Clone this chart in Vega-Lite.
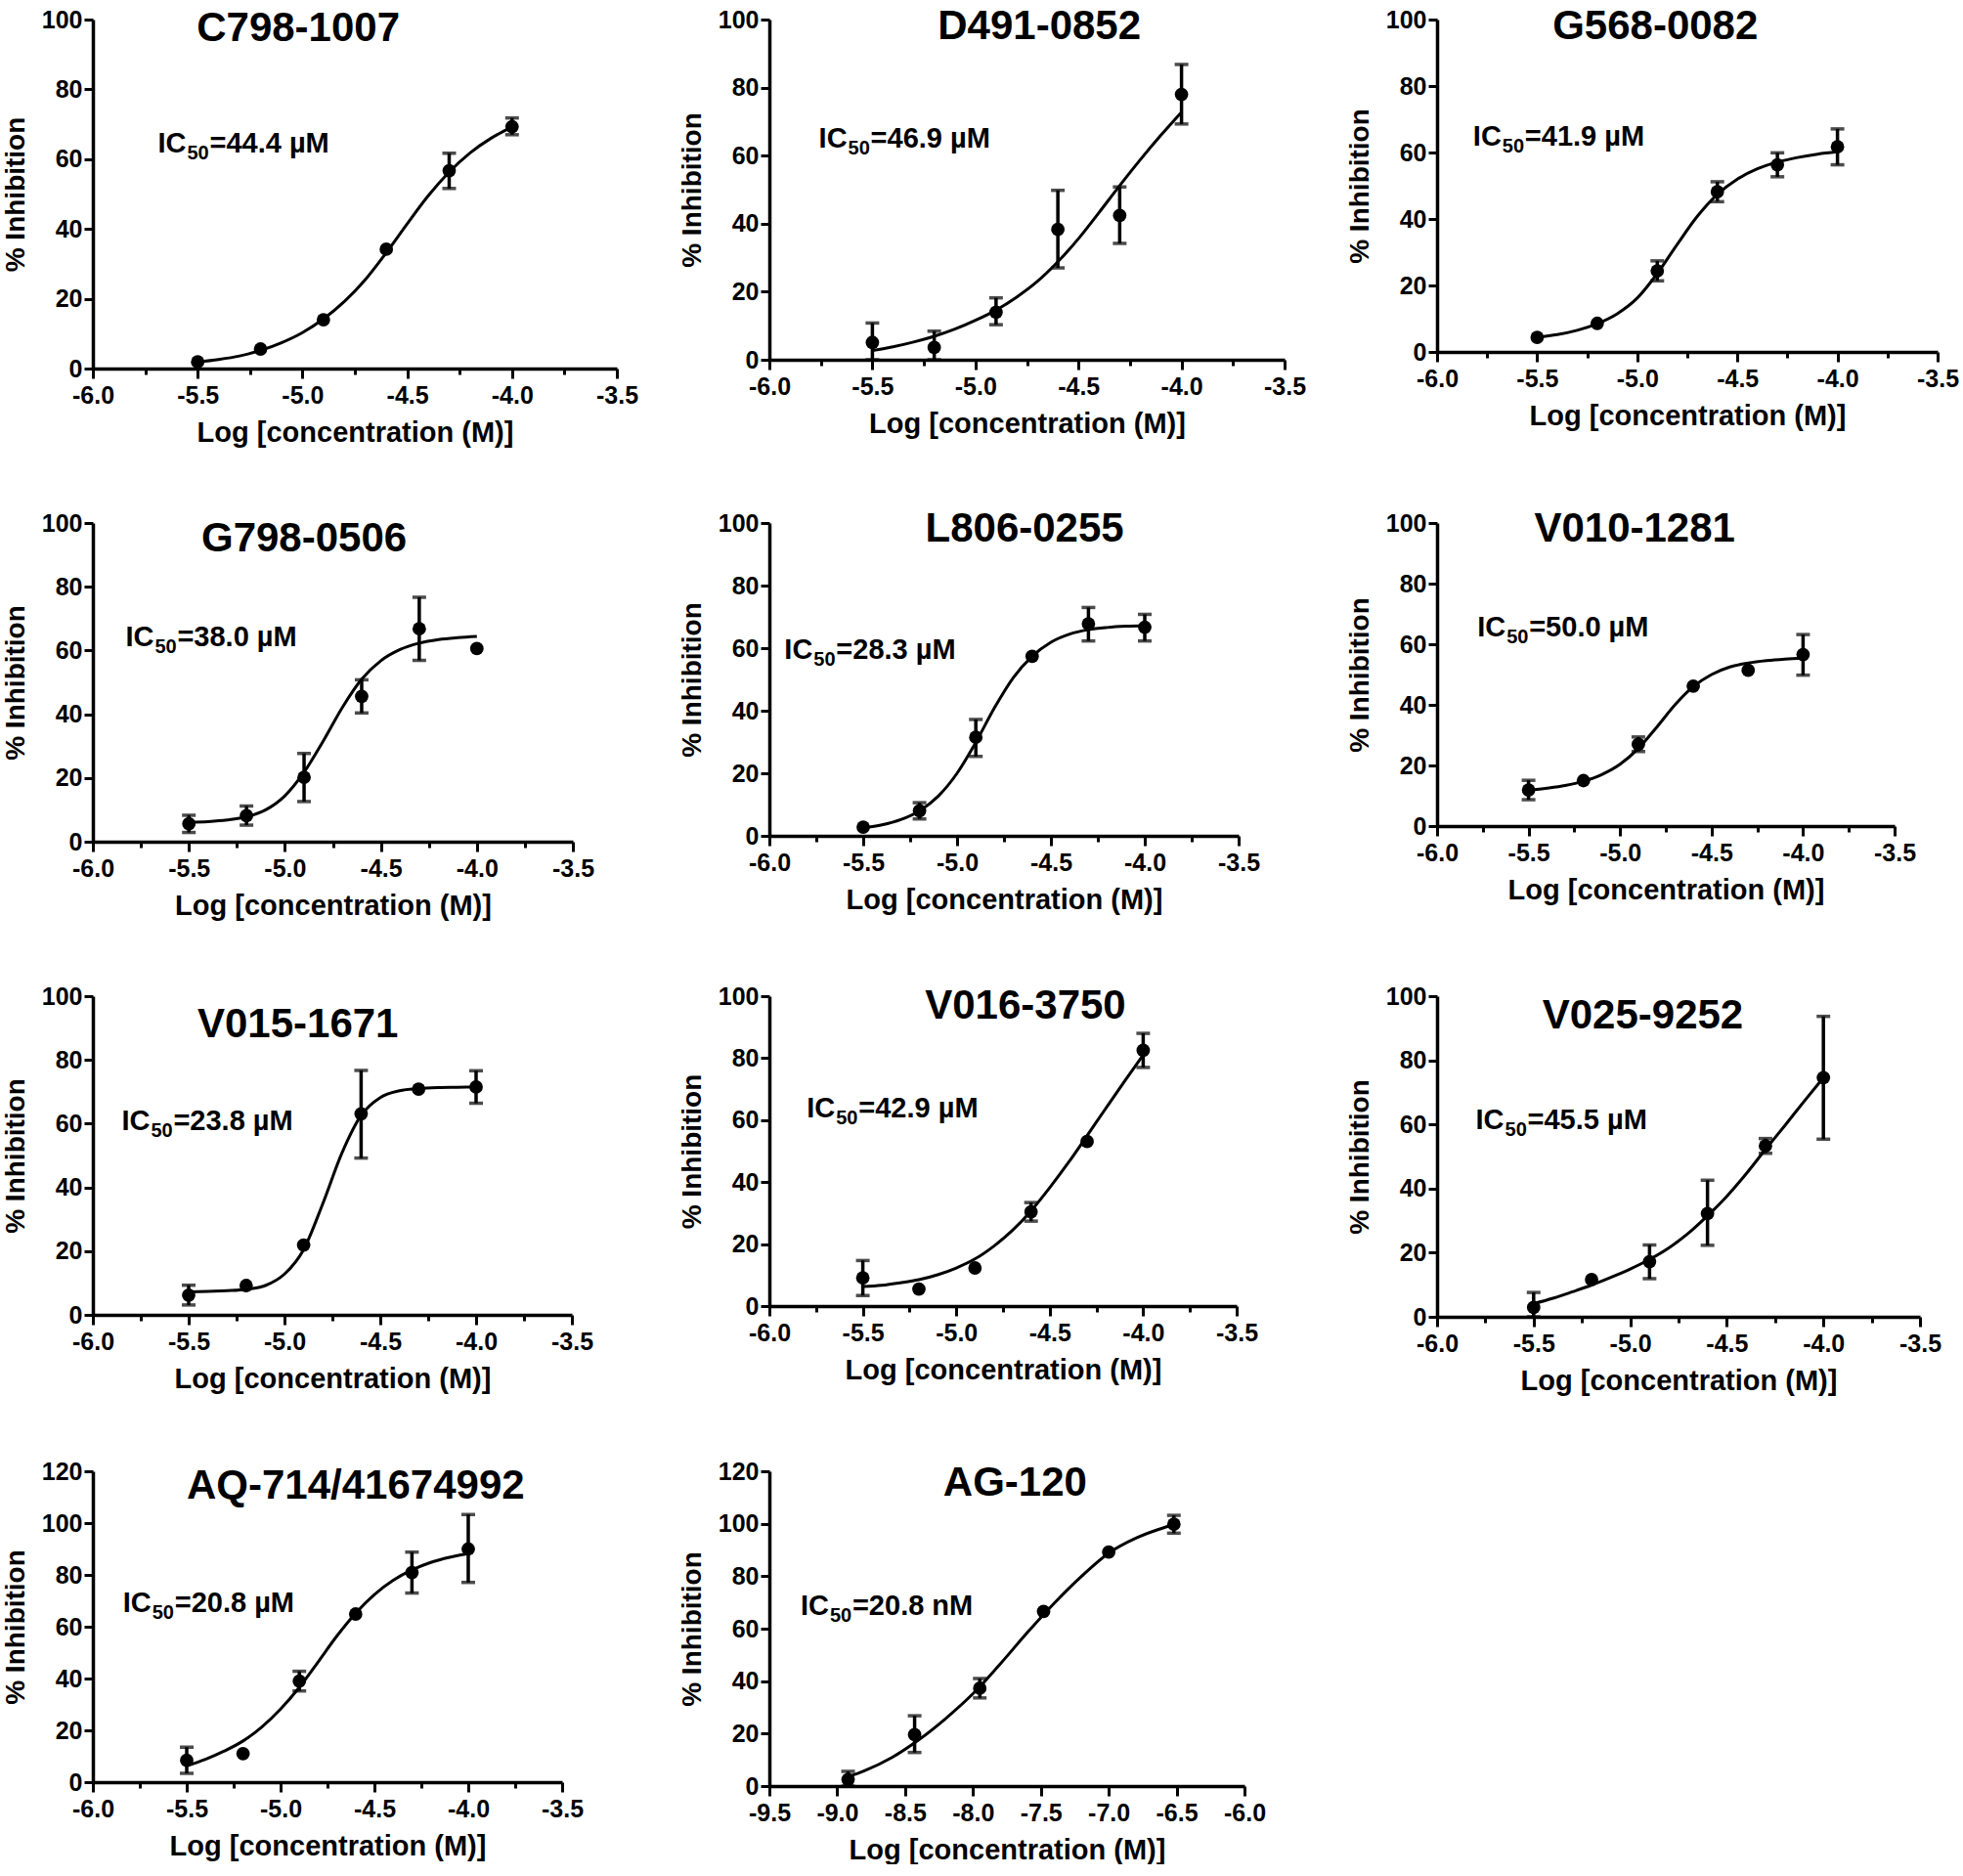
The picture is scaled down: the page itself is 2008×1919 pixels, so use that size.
{
"$schema": "https://vega.github.io/schema/vega-lite/v6.json",
"padding": {"left": 2, "top": 5, "right": 0, "bottom": 0},
"datasets": {
"pts": [
{"c":"C798-1007","x":-5.5,"y":1.9},{"c":"C798-1007","x":-5.2,"y":5.6},{"c":"C798-1007","x":-4.9,"y":14.0},{"c":"C798-1007","x":-4.6,"y":34.2},{"c":"C798-1007","x":-4.3,"y":56.7,"lo":51.6,"hi":61.7},{"c":"C798-1007","x":-4.0,"y":69.3,"lo":67.0,"hi":71.8},
{"c":"D491-0852","x":-5.5,"y":5.1,"lo":0,"hi":10.8},{"c":"D491-0852","x":-5.2,"y":3.6,"lo":0,"hi":8.4},{"c":"D491-0852","x":-4.9,"y":14.0,"lo":10.3,"hi":18.2},{"c":"D491-0852","x":-4.6,"y":38.3,"lo":27.0,"hi":49.8},{"c":"D491-0852","x":-4.3,"y":42.4,"lo":34.2,"hi":50.8},{"c":"D491-0852","x":-4.0,"y":78.0,"lo":69.3,"hi":86.8},
{"c":"G568-0082","x":-5.5,"y":4.4},{"c":"G568-0082","x":-5.2,"y":8.6},{"c":"G568-0082","x":-4.9,"y":24.4,"lo":21.4,"hi":27.4},{"c":"G568-0082","x":-4.6,"y":48.2,"lo":45.2,"hi":51.2},{"c":"G568-0082","x":-4.3,"y":56.3,"lo":52.7,"hi":59.9},{"c":"G568-0082","x":-4.0,"y":61.7,"lo":56.3,"hi":67.1},
{"c":"G798-0506","x":-5.5,"y":5.6,"lo":2.9,"hi":8.3},{"c":"G798-0506","x":-5.2,"y":8.2,"lo":5.2,"hi":11.2},{"c":"G798-0506","x":-4.9,"y":20.2,"lo":12.6,"hi":27.7},{"c":"G798-0506","x":-4.6,"y":45.6,"lo":40.4,"hi":50.8},{"c":"G798-0506","x":-4.3,"y":66.8,"lo":56.9,"hi":76.7},{"c":"G798-0506","x":-4.0,"y":60.6},
{"c":"L806-0255","x":-5.5,"y":2.8},{"c":"L806-0255","x":-5.2,"y":8.0,"lo":5.4,"hi":10.6},{"c":"L806-0255","x":-4.9,"y":31.5,"lo":25.4,"hi":37.2},{"c":"L806-0255","x":-4.6,"y":57.4},{"c":"L806-0255","x":-4.3,"y":67.8,"lo":62.3,"hi":73.0},{"c":"L806-0255","x":-4.0,"y":66.7,"lo":62.3,"hi":70.8},
{"c":"V010-1281","x":-5.5,"y":11.9,"lo":8.7,"hi":15.1},{"c":"V010-1281","x":-5.2,"y":15.0},{"c":"V010-1281","x":-4.9,"y":27.0,"lo":24.6,"hi":29.4},{"c":"V010-1281","x":-4.6,"y":46.2},{"c":"V010-1281","x":-4.3,"y":51.4},{"c":"V010-1281","x":-4.0,"y":56.6,"lo":49.8,"hi":63.2},
{"c":"V015-1671","x":-5.5,"y":6.2,"lo":3.1,"hi":9.3},{"c":"V015-1671","x":-5.2,"y":9.2},{"c":"V015-1671","x":-4.9,"y":21.9},{"c":"V015-1671","x":-4.6,"y":63.1,"lo":49.2,"hi":76.7},{"c":"V015-1671","x":-4.3,"y":70.8},{"c":"V015-1671","x":-4.0,"y":71.5,"lo":66.4,"hi":76.6},
{"c":"V016-3750","x":-5.5,"y":9.1,"lo":3.4,"hi":14.7},{"c":"V016-3750","x":-5.2,"y":5.5},{"c":"V016-3750","x":-4.9,"y":12.3},{"c":"V016-3750","x":-4.6,"y":30.4,"lo":27.4,"hi":33.4},{"c":"V016-3750","x":-4.3,"y":53.1},{"c":"V016-3750","x":-4.0,"y":82.5,"lo":77.0,"hi":88.0},
{"c":"V025-9252","x":-5.5,"y":2.9,"lo":0,"hi":7.6},{"c":"V025-9252","x":-5.2,"y":11.6},{"c":"V025-9252","x":-4.9,"y":17.2,"lo":11.9,"hi":22.4},{"c":"V025-9252","x":-4.6,"y":32.2,"lo":22.3,"hi":42.6},{"c":"V025-9252","x":-4.3,"y":53.3,"lo":51.0,"hi":55.6},{"c":"V025-9252","x":-4.0,"y":74.6,"lo":55.4,"hi":93.7},
{"c":"AQ-714/41674992","x":-5.5,"y":8.4,"lo":3.4,"hi":13.5},{"c":"AQ-714/41674992","x":-5.2,"y":11.0},{"c":"AQ-714/41674992","x":-4.9,"y":39.0,"lo":35.2,"hi":42.8},{"c":"AQ-714/41674992","x":-4.6,"y":64.9},{"c":"AQ-714/41674992","x":-4.3,"y":80.9,"lo":73.0,"hi":88.8},{"c":"AQ-714/41674992","x":-4.0,"y":90.0,"lo":77.1,"hi":103.3},
{"c":"AG-120","x":-8.92,"y":2.5,"lo":0,"hi":5.6},{"c":"AG-120","x":-8.43,"y":19.6,"lo":12.8,"hi":26.8},{"c":"AG-120","x":-7.95,"y":37.3,"lo":33.6,"hi":41.0},{"c":"AG-120","x":-7.48,"y":66.6},{"c":"AG-120","x":-7.0,"y":89.2},{"c":"AG-120","x":-6.52,"y":99.8,"lo":96.4,"hi":103.2}
],
"fit": [
{"c":"C798-1007","x":-5.5,"y":1.9},{"c":"C798-1007","x":-5.4,"y":2.6},{"c":"C798-1007","x":-5.3,"y":3.6},{"c":"C798-1007","x":-5.2,"y":5.2},{"c":"C798-1007","x":-5.1,"y":7.4},{"c":"C798-1007","x":-5.0,"y":10.3},{"c":"C798-1007","x":-4.9,"y":14.2},{"c":"C798-1007","x":-4.8,"y":19.2},{"c":"C798-1007","x":-4.7,"y":25.5},{"c":"C798-1007","x":-4.6,"y":33.2},{"c":"C798-1007","x":-4.5,"y":41.5},{"c":"C798-1007","x":-4.4,"y":49.5},{"c":"C798-1007","x":-4.3,"y":56.3},{"c":"C798-1007","x":-4.2,"y":61.8},{"c":"C798-1007","x":-4.1,"y":66.0},{"c":"C798-1007","x":-4.0,"y":69.2},
{"c":"D491-0852","x":-5.5,"y":2.7},{"c":"D491-0852","x":-5.4,"y":3.8},{"c":"D491-0852","x":-5.3,"y":5.2},{"c":"D491-0852","x":-5.2,"y":6.9},{"c":"D491-0852","x":-5.1,"y":9.0},{"c":"D491-0852","x":-5.0,"y":11.6},{"c":"D491-0852","x":-4.9,"y":14.6},{"c":"D491-0852","x":-4.8,"y":18.4},{"c":"D491-0852","x":-4.7,"y":23.0},{"c":"D491-0852","x":-4.6,"y":28.8},{"c":"D491-0852","x":-4.5,"y":35.6},{"c":"D491-0852","x":-4.4,"y":43.3},{"c":"D491-0852","x":-4.3,"y":51.2},{"c":"D491-0852","x":-4.2,"y":58.8},{"c":"D491-0852","x":-4.1,"y":66.0},{"c":"D491-0852","x":-4.0,"y":72.8},
{"c":"G568-0082","x":-5.5,"y":4.4},{"c":"G568-0082","x":-5.4,"y":5.2},{"c":"G568-0082","x":-5.3,"y":6.5},{"c":"G568-0082","x":-5.2,"y":8.5},{"c":"G568-0082","x":-5.1,"y":11.5},{"c":"G568-0082","x":-5.0,"y":16.2},{"c":"G568-0082","x":-4.9,"y":23.6},{"c":"G568-0082","x":-4.8,"y":32.4},{"c":"G568-0082","x":-4.7,"y":40.8},{"c":"G568-0082","x":-4.6,"y":47.4},{"c":"G568-0082","x":-4.5,"y":52.0},{"c":"G568-0082","x":-4.4,"y":55.1},{"c":"G568-0082","x":-4.3,"y":57.1},{"c":"G568-0082","x":-4.2,"y":58.5},{"c":"G568-0082","x":-4.1,"y":59.5},{"c":"G568-0082","x":-4.0,"y":60.2},
{"c":"G798-0506","x":-5.5,"y":6.1},{"c":"G798-0506","x":-5.4,"y":6.3},{"c":"G798-0506","x":-5.3,"y":6.8},{"c":"G798-0506","x":-5.2,"y":7.8},{"c":"G798-0506","x":-5.1,"y":10.0},{"c":"G798-0506","x":-5.0,"y":14.4},{"c":"G798-0506","x":-4.9,"y":21.8},{"c":"G798-0506","x":-4.8,"y":31.6},{"c":"G798-0506","x":-4.7,"y":42.2},{"c":"G798-0506","x":-4.6,"y":51.0},{"c":"G798-0506","x":-4.5,"y":56.8},{"c":"G798-0506","x":-4.4,"y":60.3},{"c":"G798-0506","x":-4.3,"y":62.3},{"c":"G798-0506","x":-4.2,"y":63.4},{"c":"G798-0506","x":-4.1,"y":64.0},{"c":"G798-0506","x":-4.0,"y":64.4},
{"c":"L806-0255","x":-5.5,"y":2.5},{"c":"L806-0255","x":-5.4,"y":3.5},{"c":"L806-0255","x":-5.3,"y":5.2},{"c":"L806-0255","x":-5.2,"y":8.0},{"c":"L806-0255","x":-5.1,"y":12.7},{"c":"L806-0255","x":-5.0,"y":20.0},{"c":"L806-0255","x":-4.9,"y":29.9},{"c":"L806-0255","x":-4.8,"y":41.0},{"c":"L806-0255","x":-4.7,"y":50.6},{"c":"L806-0255","x":-4.6,"y":57.4},{"c":"L806-0255","x":-4.5,"y":61.9},{"c":"L806-0255","x":-4.4,"y":64.5},{"c":"L806-0255","x":-4.3,"y":65.9},{"c":"L806-0255","x":-4.2,"y":66.6},{"c":"L806-0255","x":-4.1,"y":67.0},{"c":"L806-0255","x":-4.0,"y":67.2},
{"c":"V010-1281","x":-5.5,"y":11.8},{"c":"V010-1281","x":-5.4,"y":12.5},{"c":"V010-1281","x":-5.3,"y":13.4},{"c":"V010-1281","x":-5.2,"y":14.8},{"c":"V010-1281","x":-5.1,"y":17.0},{"c":"V010-1281","x":-5.0,"y":20.4},{"c":"V010-1281","x":-4.9,"y":25.6},{"c":"V010-1281","x":-4.8,"y":32.6},{"c":"V010-1281","x":-4.7,"y":40.0},{"c":"V010-1281","x":-4.6,"y":46.0},{"c":"V010-1281","x":-4.5,"y":50.0},{"c":"V010-1281","x":-4.4,"y":52.5},{"c":"V010-1281","x":-4.3,"y":53.8},{"c":"V010-1281","x":-4.2,"y":54.6},{"c":"V010-1281","x":-4.1,"y":55.1},{"c":"V010-1281","x":-4.0,"y":55.4},
{"c":"V015-1671","x":-5.5,"y":7.2},{"c":"V015-1671","x":-5.4,"y":7.4},{"c":"V015-1671","x":-5.3,"y":7.6},{"c":"V015-1671","x":-5.2,"y":8.0},{"c":"V015-1671","x":-5.1,"y":9.2},{"c":"V015-1671","x":-5.0,"y":12.8},{"c":"V015-1671","x":-4.9,"y":20.5},{"c":"V015-1671","x":-4.8,"y":34.9},{"c":"V015-1671","x":-4.7,"y":50.8},{"c":"V015-1671","x":-4.6,"y":62.6},{"c":"V015-1671","x":-4.5,"y":68.2},{"c":"V015-1671","x":-4.4,"y":70.3},{"c":"V015-1671","x":-4.3,"y":71.0},{"c":"V015-1671","x":-4.2,"y":71.3},{"c":"V015-1671","x":-4.1,"y":71.4},{"c":"V015-1671","x":-4.0,"y":71.5},
{"c":"V016-3750","x":-5.5,"y":6.3},{"c":"V016-3750","x":-5.4,"y":6.7},{"c":"V016-3750","x":-5.3,"y":7.5},{"c":"V016-3750","x":-5.2,"y":8.5},{"c":"V016-3750","x":-5.1,"y":10.1},{"c":"V016-3750","x":-5.0,"y":12.3},{"c":"V016-3750","x":-4.9,"y":15.2},{"c":"V016-3750","x":-4.8,"y":19.3},{"c":"V016-3750","x":-4.7,"y":24.4},{"c":"V016-3750","x":-4.6,"y":30.7},{"c":"V016-3750","x":-4.5,"y":38.2},{"c":"V016-3750","x":-4.4,"y":46.3},{"c":"V016-3750","x":-4.3,"y":55.0},{"c":"V016-3750","x":-4.2,"y":63.8},{"c":"V016-3750","x":-4.1,"y":72.5},{"c":"V016-3750","x":-4.0,"y":81.0},
{"c":"V025-9252","x":-5.5,"y":4.1},{"c":"V025-9252","x":-5.4,"y":5.8},{"c":"V025-9252","x":-5.3,"y":7.8},{"c":"V025-9252","x":-5.2,"y":9.9},{"c":"V025-9252","x":-5.1,"y":12.3},{"c":"V025-9252","x":-5.0,"y":14.9},{"c":"V025-9252","x":-4.9,"y":17.9},{"c":"V025-9252","x":-4.8,"y":21.5},{"c":"V025-9252","x":-4.7,"y":26.0},{"c":"V025-9252","x":-4.6,"y":31.5},{"c":"V025-9252","x":-4.5,"y":37.6},{"c":"V025-9252","x":-4.4,"y":44.6},{"c":"V025-9252","x":-4.3,"y":52.2},{"c":"V025-9252","x":-4.2,"y":59.6},{"c":"V025-9252","x":-4.1,"y":67.2},{"c":"V025-9252","x":-4.0,"y":74.6},
{"c":"AQ-714/41674992","x":-5.5,"y":6.3},{"c":"AQ-714/41674992","x":-5.4,"y":8.8},{"c":"AQ-714/41674992","x":-5.3,"y":12.0},{"c":"AQ-714/41674992","x":-5.2,"y":15.9},{"c":"AQ-714/41674992","x":-5.1,"y":21.3},{"c":"AQ-714/41674992","x":-5.0,"y":28.2},{"c":"AQ-714/41674992","x":-4.9,"y":36.6},{"c":"AQ-714/41674992","x":-4.8,"y":46.4},{"c":"AQ-714/41674992","x":-4.7,"y":56.4},{"c":"AQ-714/41674992","x":-4.6,"y":65.2},{"c":"AQ-714/41674992","x":-4.5,"y":72.4},{"c":"AQ-714/41674992","x":-4.4,"y":77.9},{"c":"AQ-714/41674992","x":-4.3,"y":81.9},{"c":"AQ-714/41674992","x":-4.2,"y":84.8},{"c":"AQ-714/41674992","x":-4.1,"y":86.8},{"c":"AQ-714/41674992","x":-4.0,"y":88.2},
{"c":"AG-120","x":-8.92,"y":3.5},{"c":"AG-120","x":-8.8,"y":5.8},{"c":"AG-120","x":-8.6,"y":10.8},{"c":"AG-120","x":-8.4,"y":17.6},{"c":"AG-120","x":-8.2,"y":25.8},{"c":"AG-120","x":-8.0,"y":35.2},{"c":"AG-120","x":-7.8,"y":46.5},{"c":"AG-120","x":-7.6,"y":58.5},{"c":"AG-120","x":-7.4,"y":69.8},{"c":"AG-120","x":-7.2,"y":80.0},{"c":"AG-120","x":-7.0,"y":88.8},{"c":"AG-120","x":-6.8,"y":94.5},{"c":"AG-120","x":-6.6,"y":98.4},{"c":"AG-120","x":-6.52,"y":99.6}
],
"info": [
{"c":"C798-1007","ic":"=44.4 µM"},{"c":"D491-0852","ic":"=46.9 µM"},{"c":"G568-0082","ic":"=41.9 µM"},{"c":"G798-0506","ic":"=38.0 µM"},{"c":"L806-0255","ic":"=28.3 µM"},{"c":"V010-1281","ic":"=50.0 µM"},{"c":"V015-1671","ic":"=23.8 µM"},{"c":"V016-3750","ic":"=42.9 µM"},{"c":"V025-9252","ic":"=45.5 µM"},{"c":"AQ-714/41674992","ic":"=20.8 µM"},{"c":"AG-120","ic":"=20.8 nM"}
]
},
"columns": 3,
"align": "each",
"bounds": "flush",
"spacing": {"row": 158, "column": 156},
"concat": [
{"width": 536, "height": 357,
 "layer": [
  {"data": {"name": "fit"}, "transform": [{"filter": "datum.c == 'C798-1007'"}], "mark": "line", "encoding": {"x": {"field": "x", "type": "quantitative", "scale": {"domain": [-6, -3.5], "nice": false}, "axis": {"title": "Log [concentration (M)]", "values": [-6,-5.75,-5.5,-5.25,-5,-4.75,-4.5,-4.25,-4,-3.75,-3.5], "labelExpr": "abs(datum.value % 0.5) < 0.01 ? (datum.value < 0 ? '-' : '') + format(abs(datum.value), '.1f') : ''", "tickSize": {"condition": {"test": "abs(datum.value % 0.5) < 0.01", "value": 10}, "value": 6}}}, "y": {"field": "y", "type": "quantitative", "scale": {"domain": [0, 100], "nice": false}, "axis": {"title": "% Inhibition", "values": [0,10,20,30,40,50,60,70,80,90,100], "labelExpr": "datum.value % 20 == 0 ? datum.label : ''", "tickSize": {"condition": {"test": "datum.value % 20 == 0", "value": 9}, "value": 5}}}}},
  {"data": {"name": "pts"}, "transform": [{"filter": "datum.c == 'C798-1007' && isValid(datum.lo)"}], "mark": {"type": "errorbar", "ticks": true, "size": 14, "thickness": 3.5, "color": "black"}, "encoding": {"x": {"field": "x", "type": "quantitative"}, "y": {"field": "lo", "type": "quantitative", "axis": {"title": "% Inhibition"}}, "y2": {"field": "hi"}}},
  {"data": {"name": "pts"}, "transform": [{"filter": "datum.c == 'C798-1007'"}], "mark": "circle", "encoding": {"x": {"field": "x", "type": "quantitative"}, "y": {"field": "y", "type": "quantitative"}}},
  {"data": {"name": "info"}, "transform": [{"filter": "datum.c == 'C798-1007'"}], "mark": {"type": "text", "font": "Liberation Sans", "fontWeight": "bold", "fontSize": 42, "align": "center", "baseline": "middle", "color": "black"}, "encoding": {"x": {"datum": -5.02, "type": "quantitative"}, "y": {"datum": 97.5, "type": "quantitative"}, "text": {"field": "c"}}},
  {"data": {"name": "info"}, "transform": [{"filter": "datum.c == 'C798-1007'"}], "mark": {"type": "text", "font": "Liberation Sans", "fontWeight": "bold", "fontSize": 29, "align": "left", "baseline": "alphabetic", "color": "black"}, "encoding": {"x": {"datum": -5.69, "type": "quantitative"}, "y": {"datum": 62, "type": "quantitative"}, "text": {"value": "IC"}}},
  {"data": {"name": "info"}, "transform": [{"filter": "datum.c == 'C798-1007'"}], "mark": {"type": "text", "font": "Liberation Sans", "fontWeight": "bold", "fontSize": 20, "align": "left", "baseline": "alphabetic", "dx": 30, "dy": 7, "color": "black"}, "encoding": {"x": {"datum": -5.69, "type": "quantitative"}, "y": {"datum": 62, "type": "quantitative"}, "text": {"value": "50"}}},
  {"data": {"name": "info"}, "transform": [{"filter": "datum.c == 'C798-1007'"}], "mark": {"type": "text", "font": "Liberation Sans", "fontWeight": "bold", "fontSize": 29, "align": "left", "baseline": "alphabetic", "dx": 53, "color": "black"}, "encoding": {"x": {"datum": -5.69, "type": "quantitative"}, "y": {"datum": 62, "type": "quantitative"}, "text": {"field": "ic"}}}
 ]},
{"width": 527, "height": 348,
 "layer": [
  {"data": {"name": "fit"}, "transform": [{"filter": "datum.c == 'D491-0852'"}], "mark": "line", "encoding": {"x": {"field": "x", "type": "quantitative", "scale": {"domain": [-6, -3.5], "nice": false}, "axis": {"title": "Log [concentration (M)]", "values": [-6,-5.75,-5.5,-5.25,-5,-4.75,-4.5,-4.25,-4,-3.75,-3.5], "labelExpr": "abs(datum.value % 0.5) < 0.01 ? (datum.value < 0 ? '-' : '') + format(abs(datum.value), '.1f') : ''", "tickSize": {"condition": {"test": "abs(datum.value % 0.5) < 0.01", "value": 10}, "value": 6}}}, "y": {"field": "y", "type": "quantitative", "scale": {"domain": [0, 100], "nice": false}, "axis": {"title": "% Inhibition", "values": [0,10,20,30,40,50,60,70,80,90,100], "labelExpr": "datum.value % 20 == 0 ? datum.label : ''", "tickSize": {"condition": {"test": "datum.value % 20 == 0", "value": 9}, "value": 5}}}}},
  {"data": {"name": "pts"}, "transform": [{"filter": "datum.c == 'D491-0852' && isValid(datum.lo)"}], "mark": {"type": "errorbar", "ticks": true, "size": 14, "thickness": 3.5, "color": "black"}, "encoding": {"x": {"field": "x", "type": "quantitative"}, "y": {"field": "lo", "type": "quantitative", "axis": {"title": "% Inhibition"}}, "y2": {"field": "hi"}}},
  {"data": {"name": "pts"}, "transform": [{"filter": "datum.c == 'D491-0852'"}], "mark": "circle", "encoding": {"x": {"field": "x", "type": "quantitative"}, "y": {"field": "y", "type": "quantitative"}}},
  {"data": {"name": "info"}, "transform": [{"filter": "datum.c == 'D491-0852'"}], "mark": {"type": "text", "font": "Liberation Sans", "fontWeight": "bold", "fontSize": 42, "align": "center", "baseline": "middle", "color": "black"}, "encoding": {"x": {"datum": -4.69, "type": "quantitative"}, "y": {"datum": 98, "type": "quantitative"}, "text": {"field": "c"}}},
  {"data": {"name": "info"}, "transform": [{"filter": "datum.c == 'D491-0852'"}], "mark": {"type": "text", "font": "Liberation Sans", "fontWeight": "bold", "fontSize": 29, "align": "left", "baseline": "alphabetic", "color": "black"}, "encoding": {"x": {"datum": -5.76, "type": "quantitative"}, "y": {"datum": 62.4, "type": "quantitative"}, "text": {"value": "IC"}}},
  {"data": {"name": "info"}, "transform": [{"filter": "datum.c == 'D491-0852'"}], "mark": {"type": "text", "font": "Liberation Sans", "fontWeight": "bold", "fontSize": 20, "align": "left", "baseline": "alphabetic", "dx": 30, "dy": 7, "color": "black"}, "encoding": {"x": {"datum": -5.76, "type": "quantitative"}, "y": {"datum": 62.4, "type": "quantitative"}, "text": {"value": "50"}}},
  {"data": {"name": "info"}, "transform": [{"filter": "datum.c == 'D491-0852'"}], "mark": {"type": "text", "font": "Liberation Sans", "fontWeight": "bold", "fontSize": 29, "align": "left", "baseline": "alphabetic", "dx": 53, "color": "black"}, "encoding": {"x": {"datum": -5.76, "type": "quantitative"}, "y": {"datum": 62.4, "type": "quantitative"}, "text": {"field": "ic"}}}
 ]},
{"width": 512, "height": 340,
 "layer": [
  {"data": {"name": "fit"}, "transform": [{"filter": "datum.c == 'G568-0082'"}], "mark": "line", "encoding": {"x": {"field": "x", "type": "quantitative", "scale": {"domain": [-6, -3.5], "nice": false}, "axis": {"title": "Log [concentration (M)]", "values": [-6,-5.75,-5.5,-5.25,-5,-4.75,-4.5,-4.25,-4,-3.75,-3.5], "labelExpr": "abs(datum.value % 0.5) < 0.01 ? (datum.value < 0 ? '-' : '') + format(abs(datum.value), '.1f') : ''", "tickSize": {"condition": {"test": "abs(datum.value % 0.5) < 0.01", "value": 10}, "value": 6}}}, "y": {"field": "y", "type": "quantitative", "scale": {"domain": [0, 100], "nice": false}, "axis": {"title": "% Inhibition", "values": [0,10,20,30,40,50,60,70,80,90,100], "labelExpr": "datum.value % 20 == 0 ? datum.label : ''", "tickSize": {"condition": {"test": "datum.value % 20 == 0", "value": 9}, "value": 5}}}}},
  {"data": {"name": "pts"}, "transform": [{"filter": "datum.c == 'G568-0082' && isValid(datum.lo)"}], "mark": {"type": "errorbar", "ticks": true, "size": 14, "thickness": 3.5, "color": "black"}, "encoding": {"x": {"field": "x", "type": "quantitative"}, "y": {"field": "lo", "type": "quantitative", "axis": {"title": "% Inhibition"}}, "y2": {"field": "hi"}}},
  {"data": {"name": "pts"}, "transform": [{"filter": "datum.c == 'G568-0082'"}], "mark": "circle", "encoding": {"x": {"field": "x", "type": "quantitative"}, "y": {"field": "y", "type": "quantitative"}}},
  {"data": {"name": "info"}, "transform": [{"filter": "datum.c == 'G568-0082'"}], "mark": {"type": "text", "font": "Liberation Sans", "fontWeight": "bold", "fontSize": 42, "align": "center", "baseline": "middle", "color": "black"}, "encoding": {"x": {"datum": -4.91, "type": "quantitative"}, "y": {"datum": 98, "type": "quantitative"}, "text": {"field": "c"}}},
  {"data": {"name": "info"}, "transform": [{"filter": "datum.c == 'G568-0082'"}], "mark": {"type": "text", "font": "Liberation Sans", "fontWeight": "bold", "fontSize": 29, "align": "left", "baseline": "alphabetic", "color": "black"}, "encoding": {"x": {"datum": -5.82, "type": "quantitative"}, "y": {"datum": 62.2, "type": "quantitative"}, "text": {"value": "IC"}}},
  {"data": {"name": "info"}, "transform": [{"filter": "datum.c == 'G568-0082'"}], "mark": {"type": "text", "font": "Liberation Sans", "fontWeight": "bold", "fontSize": 20, "align": "left", "baseline": "alphabetic", "dx": 30, "dy": 7, "color": "black"}, "encoding": {"x": {"datum": -5.82, "type": "quantitative"}, "y": {"datum": 62.2, "type": "quantitative"}, "text": {"value": "50"}}},
  {"data": {"name": "info"}, "transform": [{"filter": "datum.c == 'G568-0082'"}], "mark": {"type": "text", "font": "Liberation Sans", "fontWeight": "bold", "fontSize": 29, "align": "left", "baseline": "alphabetic", "dx": 53, "color": "black"}, "encoding": {"x": {"datum": -5.82, "type": "quantitative"}, "y": {"datum": 62.2, "type": "quantitative"}, "text": {"field": "ic"}}}
 ]},
{"width": 491, "height": 326,
 "layer": [
  {"data": {"name": "fit"}, "transform": [{"filter": "datum.c == 'G798-0506'"}], "mark": "line", "encoding": {"x": {"field": "x", "type": "quantitative", "scale": {"domain": [-6, -3.5], "nice": false}, "axis": {"title": "Log [concentration (M)]", "values": [-6,-5.75,-5.5,-5.25,-5,-4.75,-4.5,-4.25,-4,-3.75,-3.5], "labelExpr": "abs(datum.value % 0.5) < 0.01 ? (datum.value < 0 ? '-' : '') + format(abs(datum.value), '.1f') : ''", "tickSize": {"condition": {"test": "abs(datum.value % 0.5) < 0.01", "value": 10}, "value": 6}}}, "y": {"field": "y", "type": "quantitative", "scale": {"domain": [0, 100], "nice": false}, "axis": {"title": "% Inhibition", "values": [0,10,20,30,40,50,60,70,80,90,100], "labelExpr": "datum.value % 20 == 0 ? datum.label : ''", "tickSize": {"condition": {"test": "datum.value % 20 == 0", "value": 9}, "value": 5}}}}},
  {"data": {"name": "pts"}, "transform": [{"filter": "datum.c == 'G798-0506' && isValid(datum.lo)"}], "mark": {"type": "errorbar", "ticks": true, "size": 14, "thickness": 3.5, "color": "black"}, "encoding": {"x": {"field": "x", "type": "quantitative"}, "y": {"field": "lo", "type": "quantitative", "axis": {"title": "% Inhibition"}}, "y2": {"field": "hi"}}},
  {"data": {"name": "pts"}, "transform": [{"filter": "datum.c == 'G798-0506'"}], "mark": "circle", "encoding": {"x": {"field": "x", "type": "quantitative"}, "y": {"field": "y", "type": "quantitative"}}},
  {"data": {"name": "info"}, "transform": [{"filter": "datum.c == 'G798-0506'"}], "mark": {"type": "text", "font": "Liberation Sans", "fontWeight": "bold", "fontSize": 42, "align": "center", "baseline": "middle", "color": "black"}, "encoding": {"x": {"datum": -4.9, "type": "quantitative"}, "y": {"datum": 95, "type": "quantitative"}, "text": {"field": "c"}}},
  {"data": {"name": "info"}, "transform": [{"filter": "datum.c == 'G798-0506'"}], "mark": {"type": "text", "font": "Liberation Sans", "fontWeight": "bold", "fontSize": 29, "align": "left", "baseline": "alphabetic", "color": "black"}, "encoding": {"x": {"datum": -5.83, "type": "quantitative"}, "y": {"datum": 61.5, "type": "quantitative"}, "text": {"value": "IC"}}},
  {"data": {"name": "info"}, "transform": [{"filter": "datum.c == 'G798-0506'"}], "mark": {"type": "text", "font": "Liberation Sans", "fontWeight": "bold", "fontSize": 20, "align": "left", "baseline": "alphabetic", "dx": 30, "dy": 7, "color": "black"}, "encoding": {"x": {"datum": -5.83, "type": "quantitative"}, "y": {"datum": 61.5, "type": "quantitative"}, "text": {"value": "50"}}},
  {"data": {"name": "info"}, "transform": [{"filter": "datum.c == 'G798-0506'"}], "mark": {"type": "text", "font": "Liberation Sans", "fontWeight": "bold", "fontSize": 29, "align": "left", "baseline": "alphabetic", "dx": 53, "color": "black"}, "encoding": {"x": {"datum": -5.83, "type": "quantitative"}, "y": {"datum": 61.5, "type": "quantitative"}, "text": {"field": "ic"}}}
 ]},
{"width": 480, "height": 320,
 "layer": [
  {"data": {"name": "fit"}, "transform": [{"filter": "datum.c == 'L806-0255'"}], "mark": "line", "encoding": {"x": {"field": "x", "type": "quantitative", "scale": {"domain": [-6, -3.5], "nice": false}, "axis": {"title": "Log [concentration (M)]", "values": [-6,-5.75,-5.5,-5.25,-5,-4.75,-4.5,-4.25,-4,-3.75,-3.5], "labelExpr": "abs(datum.value % 0.5) < 0.01 ? (datum.value < 0 ? '-' : '') + format(abs(datum.value), '.1f') : ''", "tickSize": {"condition": {"test": "abs(datum.value % 0.5) < 0.01", "value": 10}, "value": 6}}}, "y": {"field": "y", "type": "quantitative", "scale": {"domain": [0, 100], "nice": false}, "axis": {"title": "% Inhibition", "values": [0,10,20,30,40,50,60,70,80,90,100], "labelExpr": "datum.value % 20 == 0 ? datum.label : ''", "tickSize": {"condition": {"test": "datum.value % 20 == 0", "value": 9}, "value": 5}}}}},
  {"data": {"name": "pts"}, "transform": [{"filter": "datum.c == 'L806-0255' && isValid(datum.lo)"}], "mark": {"type": "errorbar", "ticks": true, "size": 14, "thickness": 3.5, "color": "black"}, "encoding": {"x": {"field": "x", "type": "quantitative"}, "y": {"field": "lo", "type": "quantitative", "axis": {"title": "% Inhibition"}}, "y2": {"field": "hi"}}},
  {"data": {"name": "pts"}, "transform": [{"filter": "datum.c == 'L806-0255'"}], "mark": "circle", "encoding": {"x": {"field": "x", "type": "quantitative"}, "y": {"field": "y", "type": "quantitative"}}},
  {"data": {"name": "info"}, "transform": [{"filter": "datum.c == 'L806-0255'"}], "mark": {"type": "text", "font": "Liberation Sans", "fontWeight": "bold", "fontSize": 42, "align": "center", "baseline": "middle", "color": "black"}, "encoding": {"x": {"datum": -4.64, "type": "quantitative"}, "y": {"datum": 98, "type": "quantitative"}, "text": {"field": "c"}}},
  {"data": {"name": "info"}, "transform": [{"filter": "datum.c == 'L806-0255'"}], "mark": {"type": "text", "font": "Liberation Sans", "fontWeight": "bold", "fontSize": 29, "align": "left", "baseline": "alphabetic", "color": "black"}, "encoding": {"x": {"datum": -5.92, "type": "quantitative"}, "y": {"datum": 56.5, "type": "quantitative"}, "text": {"value": "IC"}}},
  {"data": {"name": "info"}, "transform": [{"filter": "datum.c == 'L806-0255'"}], "mark": {"type": "text", "font": "Liberation Sans", "fontWeight": "bold", "fontSize": 20, "align": "left", "baseline": "alphabetic", "dx": 30, "dy": 7, "color": "black"}, "encoding": {"x": {"datum": -5.92, "type": "quantitative"}, "y": {"datum": 56.5, "type": "quantitative"}, "text": {"value": "50"}}},
  {"data": {"name": "info"}, "transform": [{"filter": "datum.c == 'L806-0255'"}], "mark": {"type": "text", "font": "Liberation Sans", "fontWeight": "bold", "fontSize": 29, "align": "left", "baseline": "alphabetic", "dx": 53, "color": "black"}, "encoding": {"x": {"datum": -5.92, "type": "quantitative"}, "y": {"datum": 56.5, "type": "quantitative"}, "text": {"field": "ic"}}}
 ]},
{"width": 468, "height": 310,
 "layer": [
  {"data": {"name": "fit"}, "transform": [{"filter": "datum.c == 'V010-1281'"}], "mark": "line", "encoding": {"x": {"field": "x", "type": "quantitative", "scale": {"domain": [-6, -3.5], "nice": false}, "axis": {"title": "Log [concentration (M)]", "values": [-6,-5.75,-5.5,-5.25,-5,-4.75,-4.5,-4.25,-4,-3.75,-3.5], "labelExpr": "abs(datum.value % 0.5) < 0.01 ? (datum.value < 0 ? '-' : '') + format(abs(datum.value), '.1f') : ''", "tickSize": {"condition": {"test": "abs(datum.value % 0.5) < 0.01", "value": 10}, "value": 6}}}, "y": {"field": "y", "type": "quantitative", "scale": {"domain": [0, 100], "nice": false}, "axis": {"title": "% Inhibition", "values": [0,10,20,30,40,50,60,70,80,90,100], "labelExpr": "datum.value % 20 == 0 ? datum.label : ''", "tickSize": {"condition": {"test": "datum.value % 20 == 0", "value": 9}, "value": 5}}}}},
  {"data": {"name": "pts"}, "transform": [{"filter": "datum.c == 'V010-1281' && isValid(datum.lo)"}], "mark": {"type": "errorbar", "ticks": true, "size": 14, "thickness": 3.5, "color": "black"}, "encoding": {"x": {"field": "x", "type": "quantitative"}, "y": {"field": "lo", "type": "quantitative", "axis": {"title": "% Inhibition"}}, "y2": {"field": "hi"}}},
  {"data": {"name": "pts"}, "transform": [{"filter": "datum.c == 'V010-1281'"}], "mark": "circle", "encoding": {"x": {"field": "x", "type": "quantitative"}, "y": {"field": "y", "type": "quantitative"}}},
  {"data": {"name": "info"}, "transform": [{"filter": "datum.c == 'V010-1281'"}], "mark": {"type": "text", "font": "Liberation Sans", "fontWeight": "bold", "fontSize": 42, "align": "center", "baseline": "middle", "color": "black"}, "encoding": {"x": {"datum": -4.92, "type": "quantitative"}, "y": {"datum": 98, "type": "quantitative"}, "text": {"field": "c"}}},
  {"data": {"name": "info"}, "transform": [{"filter": "datum.c == 'V010-1281'"}], "mark": {"type": "text", "font": "Liberation Sans", "fontWeight": "bold", "fontSize": 29, "align": "left", "baseline": "alphabetic", "color": "black"}, "encoding": {"x": {"datum": -5.78, "type": "quantitative"}, "y": {"datum": 62.5, "type": "quantitative"}, "text": {"value": "IC"}}},
  {"data": {"name": "info"}, "transform": [{"filter": "datum.c == 'V010-1281'"}], "mark": {"type": "text", "font": "Liberation Sans", "fontWeight": "bold", "fontSize": 20, "align": "left", "baseline": "alphabetic", "dx": 30, "dy": 7, "color": "black"}, "encoding": {"x": {"datum": -5.78, "type": "quantitative"}, "y": {"datum": 62.5, "type": "quantitative"}, "text": {"value": "50"}}},
  {"data": {"name": "info"}, "transform": [{"filter": "datum.c == 'V010-1281'"}], "mark": {"type": "text", "font": "Liberation Sans", "fontWeight": "bold", "fontSize": 29, "align": "left", "baseline": "alphabetic", "dx": 53, "color": "black"}, "encoding": {"x": {"datum": -5.78, "type": "quantitative"}, "y": {"datum": 62.5, "type": "quantitative"}, "text": {"field": "ic"}}}
 ]},
{"width": 490, "height": 326,
 "layer": [
  {"data": {"name": "fit"}, "transform": [{"filter": "datum.c == 'V015-1671'"}], "mark": "line", "encoding": {"x": {"field": "x", "type": "quantitative", "scale": {"domain": [-6, -3.5], "nice": false}, "axis": {"title": "Log [concentration (M)]", "values": [-6,-5.75,-5.5,-5.25,-5,-4.75,-4.5,-4.25,-4,-3.75,-3.5], "labelExpr": "abs(datum.value % 0.5) < 0.01 ? (datum.value < 0 ? '-' : '') + format(abs(datum.value), '.1f') : ''", "tickSize": {"condition": {"test": "abs(datum.value % 0.5) < 0.01", "value": 10}, "value": 6}}}, "y": {"field": "y", "type": "quantitative", "scale": {"domain": [0, 100], "nice": false}, "axis": {"title": "% Inhibition", "values": [0,10,20,30,40,50,60,70,80,90,100], "labelExpr": "datum.value % 20 == 0 ? datum.label : ''", "tickSize": {"condition": {"test": "datum.value % 20 == 0", "value": 9}, "value": 5}}}}},
  {"data": {"name": "pts"}, "transform": [{"filter": "datum.c == 'V015-1671' && isValid(datum.lo)"}], "mark": {"type": "errorbar", "ticks": true, "size": 14, "thickness": 3.5, "color": "black"}, "encoding": {"x": {"field": "x", "type": "quantitative"}, "y": {"field": "lo", "type": "quantitative", "axis": {"title": "% Inhibition"}}, "y2": {"field": "hi"}}},
  {"data": {"name": "pts"}, "transform": [{"filter": "datum.c == 'V015-1671'"}], "mark": "circle", "encoding": {"x": {"field": "x", "type": "quantitative"}, "y": {"field": "y", "type": "quantitative"}}},
  {"data": {"name": "info"}, "transform": [{"filter": "datum.c == 'V015-1671'"}], "mark": {"type": "text", "font": "Liberation Sans", "fontWeight": "bold", "fontSize": 42, "align": "center", "baseline": "middle", "color": "black"}, "encoding": {"x": {"datum": -4.93, "type": "quantitative"}, "y": {"datum": 91, "type": "quantitative"}, "text": {"field": "c"}}},
  {"data": {"name": "info"}, "transform": [{"filter": "datum.c == 'V015-1671'"}], "mark": {"type": "text", "font": "Liberation Sans", "fontWeight": "bold", "fontSize": 29, "align": "left", "baseline": "alphabetic", "color": "black"}, "encoding": {"x": {"datum": -5.85, "type": "quantitative"}, "y": {"datum": 58, "type": "quantitative"}, "text": {"value": "IC"}}},
  {"data": {"name": "info"}, "transform": [{"filter": "datum.c == 'V015-1671'"}], "mark": {"type": "text", "font": "Liberation Sans", "fontWeight": "bold", "fontSize": 20, "align": "left", "baseline": "alphabetic", "dx": 30, "dy": 7, "color": "black"}, "encoding": {"x": {"datum": -5.85, "type": "quantitative"}, "y": {"datum": 58, "type": "quantitative"}, "text": {"value": "50"}}},
  {"data": {"name": "info"}, "transform": [{"filter": "datum.c == 'V015-1671'"}], "mark": {"type": "text", "font": "Liberation Sans", "fontWeight": "bold", "fontSize": 29, "align": "left", "baseline": "alphabetic", "dx": 53, "color": "black"}, "encoding": {"x": {"datum": -5.85, "type": "quantitative"}, "y": {"datum": 58, "type": "quantitative"}, "text": {"field": "ic"}}}
 ]},
{"width": 478, "height": 317,
 "layer": [
  {"data": {"name": "fit"}, "transform": [{"filter": "datum.c == 'V016-3750'"}], "mark": "line", "encoding": {"x": {"field": "x", "type": "quantitative", "scale": {"domain": [-6, -3.5], "nice": false}, "axis": {"title": "Log [concentration (M)]", "values": [-6,-5.75,-5.5,-5.25,-5,-4.75,-4.5,-4.25,-4,-3.75,-3.5], "labelExpr": "abs(datum.value % 0.5) < 0.01 ? (datum.value < 0 ? '-' : '') + format(abs(datum.value), '.1f') : ''", "tickSize": {"condition": {"test": "abs(datum.value % 0.5) < 0.01", "value": 10}, "value": 6}}}, "y": {"field": "y", "type": "quantitative", "scale": {"domain": [0, 100], "nice": false}, "axis": {"title": "% Inhibition", "values": [0,10,20,30,40,50,60,70,80,90,100], "labelExpr": "datum.value % 20 == 0 ? datum.label : ''", "tickSize": {"condition": {"test": "datum.value % 20 == 0", "value": 9}, "value": 5}}}}},
  {"data": {"name": "pts"}, "transform": [{"filter": "datum.c == 'V016-3750' && isValid(datum.lo)"}], "mark": {"type": "errorbar", "ticks": true, "size": 14, "thickness": 3.5, "color": "black"}, "encoding": {"x": {"field": "x", "type": "quantitative"}, "y": {"field": "lo", "type": "quantitative", "axis": {"title": "% Inhibition"}}, "y2": {"field": "hi"}}},
  {"data": {"name": "pts"}, "transform": [{"filter": "datum.c == 'V016-3750'"}], "mark": "circle", "encoding": {"x": {"field": "x", "type": "quantitative"}, "y": {"field": "y", "type": "quantitative"}}},
  {"data": {"name": "info"}, "transform": [{"filter": "datum.c == 'V016-3750'"}], "mark": {"type": "text", "font": "Liberation Sans", "fontWeight": "bold", "fontSize": 42, "align": "center", "baseline": "middle", "color": "black"}, "encoding": {"x": {"datum": -4.63, "type": "quantitative"}, "y": {"datum": 97, "type": "quantitative"}, "text": {"field": "c"}}},
  {"data": {"name": "info"}, "transform": [{"filter": "datum.c == 'V016-3750'"}], "mark": {"type": "text", "font": "Liberation Sans", "fontWeight": "bold", "fontSize": 29, "align": "left", "baseline": "alphabetic", "color": "black"}, "encoding": {"x": {"datum": -5.8, "type": "quantitative"}, "y": {"datum": 61, "type": "quantitative"}, "text": {"value": "IC"}}},
  {"data": {"name": "info"}, "transform": [{"filter": "datum.c == 'V016-3750'"}], "mark": {"type": "text", "font": "Liberation Sans", "fontWeight": "bold", "fontSize": 20, "align": "left", "baseline": "alphabetic", "dx": 30, "dy": 7, "color": "black"}, "encoding": {"x": {"datum": -5.8, "type": "quantitative"}, "y": {"datum": 61, "type": "quantitative"}, "text": {"value": "50"}}},
  {"data": {"name": "info"}, "transform": [{"filter": "datum.c == 'V016-3750'"}], "mark": {"type": "text", "font": "Liberation Sans", "fontWeight": "bold", "fontSize": 29, "align": "left", "baseline": "alphabetic", "dx": 53, "color": "black"}, "encoding": {"x": {"datum": -5.8, "type": "quantitative"}, "y": {"datum": 61, "type": "quantitative"}, "text": {"field": "ic"}}}
 ]},
{"width": 494, "height": 328,
 "layer": [
  {"data": {"name": "fit"}, "transform": [{"filter": "datum.c == 'V025-9252'"}], "mark": "line", "encoding": {"x": {"field": "x", "type": "quantitative", "scale": {"domain": [-6, -3.5], "nice": false}, "axis": {"title": "Log [concentration (M)]", "values": [-6,-5.75,-5.5,-5.25,-5,-4.75,-4.5,-4.25,-4,-3.75,-3.5], "labelExpr": "abs(datum.value % 0.5) < 0.01 ? (datum.value < 0 ? '-' : '') + format(abs(datum.value), '.1f') : ''", "tickSize": {"condition": {"test": "abs(datum.value % 0.5) < 0.01", "value": 10}, "value": 6}}}, "y": {"field": "y", "type": "quantitative", "scale": {"domain": [0, 100], "nice": false}, "axis": {"title": "% Inhibition", "values": [0,10,20,30,40,50,60,70,80,90,100], "labelExpr": "datum.value % 20 == 0 ? datum.label : ''", "tickSize": {"condition": {"test": "datum.value % 20 == 0", "value": 9}, "value": 5}}}}},
  {"data": {"name": "pts"}, "transform": [{"filter": "datum.c == 'V025-9252' && isValid(datum.lo)"}], "mark": {"type": "errorbar", "ticks": true, "size": 14, "thickness": 3.5, "color": "black"}, "encoding": {"x": {"field": "x", "type": "quantitative"}, "y": {"field": "lo", "type": "quantitative", "axis": {"title": "% Inhibition"}}, "y2": {"field": "hi"}}},
  {"data": {"name": "pts"}, "transform": [{"filter": "datum.c == 'V025-9252'"}], "mark": "circle", "encoding": {"x": {"field": "x", "type": "quantitative"}, "y": {"field": "y", "type": "quantitative"}}},
  {"data": {"name": "info"}, "transform": [{"filter": "datum.c == 'V025-9252'"}], "mark": {"type": "text", "font": "Liberation Sans", "fontWeight": "bold", "fontSize": 42, "align": "center", "baseline": "middle", "color": "black"}, "encoding": {"x": {"datum": -4.935, "type": "quantitative"}, "y": {"datum": 94, "type": "quantitative"}, "text": {"field": "c"}}},
  {"data": {"name": "info"}, "transform": [{"filter": "datum.c == 'V025-9252'"}], "mark": {"type": "text", "font": "Liberation Sans", "fontWeight": "bold", "fontSize": 29, "align": "left", "baseline": "alphabetic", "color": "black"}, "encoding": {"x": {"datum": -5.8, "type": "quantitative"}, "y": {"datum": 58.6, "type": "quantitative"}, "text": {"value": "IC"}}},
  {"data": {"name": "info"}, "transform": [{"filter": "datum.c == 'V025-9252'"}], "mark": {"type": "text", "font": "Liberation Sans", "fontWeight": "bold", "fontSize": 20, "align": "left", "baseline": "alphabetic", "dx": 30, "dy": 7, "color": "black"}, "encoding": {"x": {"datum": -5.8, "type": "quantitative"}, "y": {"datum": 58.6, "type": "quantitative"}, "text": {"value": "50"}}},
  {"data": {"name": "info"}, "transform": [{"filter": "datum.c == 'V025-9252'"}], "mark": {"type": "text", "font": "Liberation Sans", "fontWeight": "bold", "fontSize": 29, "align": "left", "baseline": "alphabetic", "dx": 53, "color": "black"}, "encoding": {"x": {"datum": -5.8, "type": "quantitative"}, "y": {"datum": 58.6, "type": "quantitative"}, "text": {"field": "ic"}}}
 ]},
{"width": 480, "height": 318,
 "layer": [
  {"data": {"name": "fit"}, "transform": [{"filter": "datum.c == 'AQ-714/41674992'"}], "mark": "line", "encoding": {"x": {"field": "x", "type": "quantitative", "scale": {"domain": [-6, -3.5], "nice": false}, "axis": {"title": "Log [concentration (M)]", "values": [-6,-5.75,-5.5,-5.25,-5,-4.75,-4.5,-4.25,-4,-3.75,-3.5], "labelExpr": "abs(datum.value % 0.5) < 0.01 ? (datum.value < 0 ? '-' : '') + format(abs(datum.value), '.1f') : ''", "tickSize": {"condition": {"test": "abs(datum.value % 0.5) < 0.01", "value": 10}, "value": 6}}}, "y": {"field": "y", "type": "quantitative", "scale": {"domain": [0, 120], "nice": false}, "axis": {"title": "% Inhibition", "values": [0,10,20,30,40,50,60,70,80,90,100,110,120], "labelExpr": "datum.value % 20 == 0 ? datum.label : ''", "tickSize": {"condition": {"test": "datum.value % 20 == 0", "value": 9}, "value": 5}}}}},
  {"data": {"name": "pts"}, "transform": [{"filter": "datum.c == 'AQ-714/41674992' && isValid(datum.lo)"}], "mark": {"type": "errorbar", "ticks": true, "size": 14, "thickness": 3.5, "color": "black"}, "encoding": {"x": {"field": "x", "type": "quantitative"}, "y": {"field": "lo", "type": "quantitative", "axis": {"title": "% Inhibition"}}, "y2": {"field": "hi"}}},
  {"data": {"name": "pts"}, "transform": [{"filter": "datum.c == 'AQ-714/41674992'"}], "mark": "circle", "encoding": {"x": {"field": "x", "type": "quantitative"}, "y": {"field": "y", "type": "quantitative"}}},
  {"data": {"name": "info"}, "transform": [{"filter": "datum.c == 'AQ-714/41674992'"}], "mark": {"type": "text", "font": "Liberation Sans", "fontWeight": "bold", "fontSize": 42, "align": "center", "baseline": "middle", "color": "black"}, "encoding": {"x": {"datum": -4.6, "type": "quantitative"}, "y": {"datum": 114.4, "type": "quantitative"}, "text": {"field": "c"}}},
  {"data": {"name": "info"}, "transform": [{"filter": "datum.c == 'AQ-714/41674992'"}], "mark": {"type": "text", "font": "Liberation Sans", "fontWeight": "bold", "fontSize": 29, "align": "left", "baseline": "alphabetic", "color": "black"}, "encoding": {"x": {"datum": -5.84, "type": "quantitative"}, "y": {"datum": 65.5, "type": "quantitative"}, "text": {"value": "IC"}}},
  {"data": {"name": "info"}, "transform": [{"filter": "datum.c == 'AQ-714/41674992'"}], "mark": {"type": "text", "font": "Liberation Sans", "fontWeight": "bold", "fontSize": 20, "align": "left", "baseline": "alphabetic", "dx": 30, "dy": 7, "color": "black"}, "encoding": {"x": {"datum": -5.84, "type": "quantitative"}, "y": {"datum": 65.5, "type": "quantitative"}, "text": {"value": "50"}}},
  {"data": {"name": "info"}, "transform": [{"filter": "datum.c == 'AQ-714/41674992'"}], "mark": {"type": "text", "font": "Liberation Sans", "fontWeight": "bold", "fontSize": 29, "align": "left", "baseline": "alphabetic", "dx": 53, "color": "black"}, "encoding": {"x": {"datum": -5.84, "type": "quantitative"}, "y": {"datum": 65.5, "type": "quantitative"}, "text": {"field": "ic"}}}
 ]},
{"width": 486, "height": 322,
 "layer": [
  {"data": {"name": "fit"}, "transform": [{"filter": "datum.c == 'AG-120'"}], "mark": "line", "encoding": {"x": {"field": "x", "type": "quantitative", "scale": {"domain": [-9.5, -6], "nice": false}, "axis": {"title": "Log [concentration (M)]", "values": [-9.5,-9.25,-9,-8.75,-8.5,-8.25,-8,-7.75,-7.5,-7.25,-7,-6.75,-6.5,-6.25,-6], "labelExpr": "abs(datum.value % 0.5) < 0.01 ? (datum.value < 0 ? '-' : '') + format(abs(datum.value), '.1f') : ''", "tickSize": {"condition": {"test": "abs(datum.value % 0.5) < 0.01", "value": 10}, "value": 6}}}, "y": {"field": "y", "type": "quantitative", "scale": {"domain": [0, 120], "nice": false}, "axis": {"title": "% Inhibition", "values": [0,10,20,30,40,50,60,70,80,90,100,110,120], "labelExpr": "datum.value % 20 == 0 ? datum.label : ''", "tickSize": {"condition": {"test": "datum.value % 20 == 0", "value": 9}, "value": 5}}}}},
  {"data": {"name": "pts"}, "transform": [{"filter": "datum.c == 'AG-120' && isValid(datum.lo)"}], "mark": {"type": "errorbar", "ticks": true, "size": 14, "thickness": 3.5, "color": "black"}, "encoding": {"x": {"field": "x", "type": "quantitative"}, "y": {"field": "lo", "type": "quantitative", "axis": {"title": "% Inhibition"}}, "y2": {"field": "hi"}}},
  {"data": {"name": "pts"}, "transform": [{"filter": "datum.c == 'AG-120'"}], "mark": "circle", "encoding": {"x": {"field": "x", "type": "quantitative"}, "y": {"field": "y", "type": "quantitative"}}},
  {"data": {"name": "info"}, "transform": [{"filter": "datum.c == 'AG-120'"}], "mark": {"type": "text", "font": "Liberation Sans", "fontWeight": "bold", "fontSize": 42, "align": "center", "baseline": "middle", "color": "black"}, "encoding": {"x": {"datum": -7.69, "type": "quantitative"}, "y": {"datum": 115.6, "type": "quantitative"}, "text": {"field": "c"}}},
  {"data": {"name": "info"}, "transform": [{"filter": "datum.c == 'AG-120'"}], "mark": {"type": "text", "font": "Liberation Sans", "fontWeight": "bold", "fontSize": 29, "align": "left", "baseline": "alphabetic", "color": "black"}, "encoding": {"x": {"datum": -9.27, "type": "quantitative"}, "y": {"datum": 65.3, "type": "quantitative"}, "text": {"value": "IC"}}},
  {"data": {"name": "info"}, "transform": [{"filter": "datum.c == 'AG-120'"}], "mark": {"type": "text", "font": "Liberation Sans", "fontWeight": "bold", "fontSize": 20, "align": "left", "baseline": "alphabetic", "dx": 30, "dy": 7, "color": "black"}, "encoding": {"x": {"datum": -9.27, "type": "quantitative"}, "y": {"datum": 65.3, "type": "quantitative"}, "text": {"value": "50"}}},
  {"data": {"name": "info"}, "transform": [{"filter": "datum.c == 'AG-120'"}], "mark": {"type": "text", "font": "Liberation Sans", "fontWeight": "bold", "fontSize": 29, "align": "left", "baseline": "alphabetic", "dx": 53, "color": "black"}, "encoding": {"x": {"datum": -9.27, "type": "quantitative"}, "y": {"datum": 65.3, "type": "quantitative"}, "text": {"field": "ic"}}}
 ]}
],
"config": {
 "font": "Liberation Sans",
 "background": "white",
 "view": {"stroke": null},
 "axis": {"grid": false, "domainColor": "black", "domainWidth": 3.5, "tickColor": "black", "tickWidth": 3, "labelFont": "Liberation Sans", "labelFontSize": 25, "labelFontWeight": "bold", "labelColor": "black", "titleFont": "Liberation Sans", "titleFontWeight": "bold", "titleColor": "black", "labelOverlap": false, "labelFlush": false, "labelBound": false},
 "axisX": {"labelPadding": 5, "titlePadding": 11, "titleFontSize": 29},
 "axisY": {"labelPadding": 2, "titlePadding": 12, "titleFontSize": 28},
 "line": {"color": "black", "strokeWidth": 3, "interpolate": "monotone"},
 "circle": {"color": "black", "size": 190, "opacity": 1}
}
}
